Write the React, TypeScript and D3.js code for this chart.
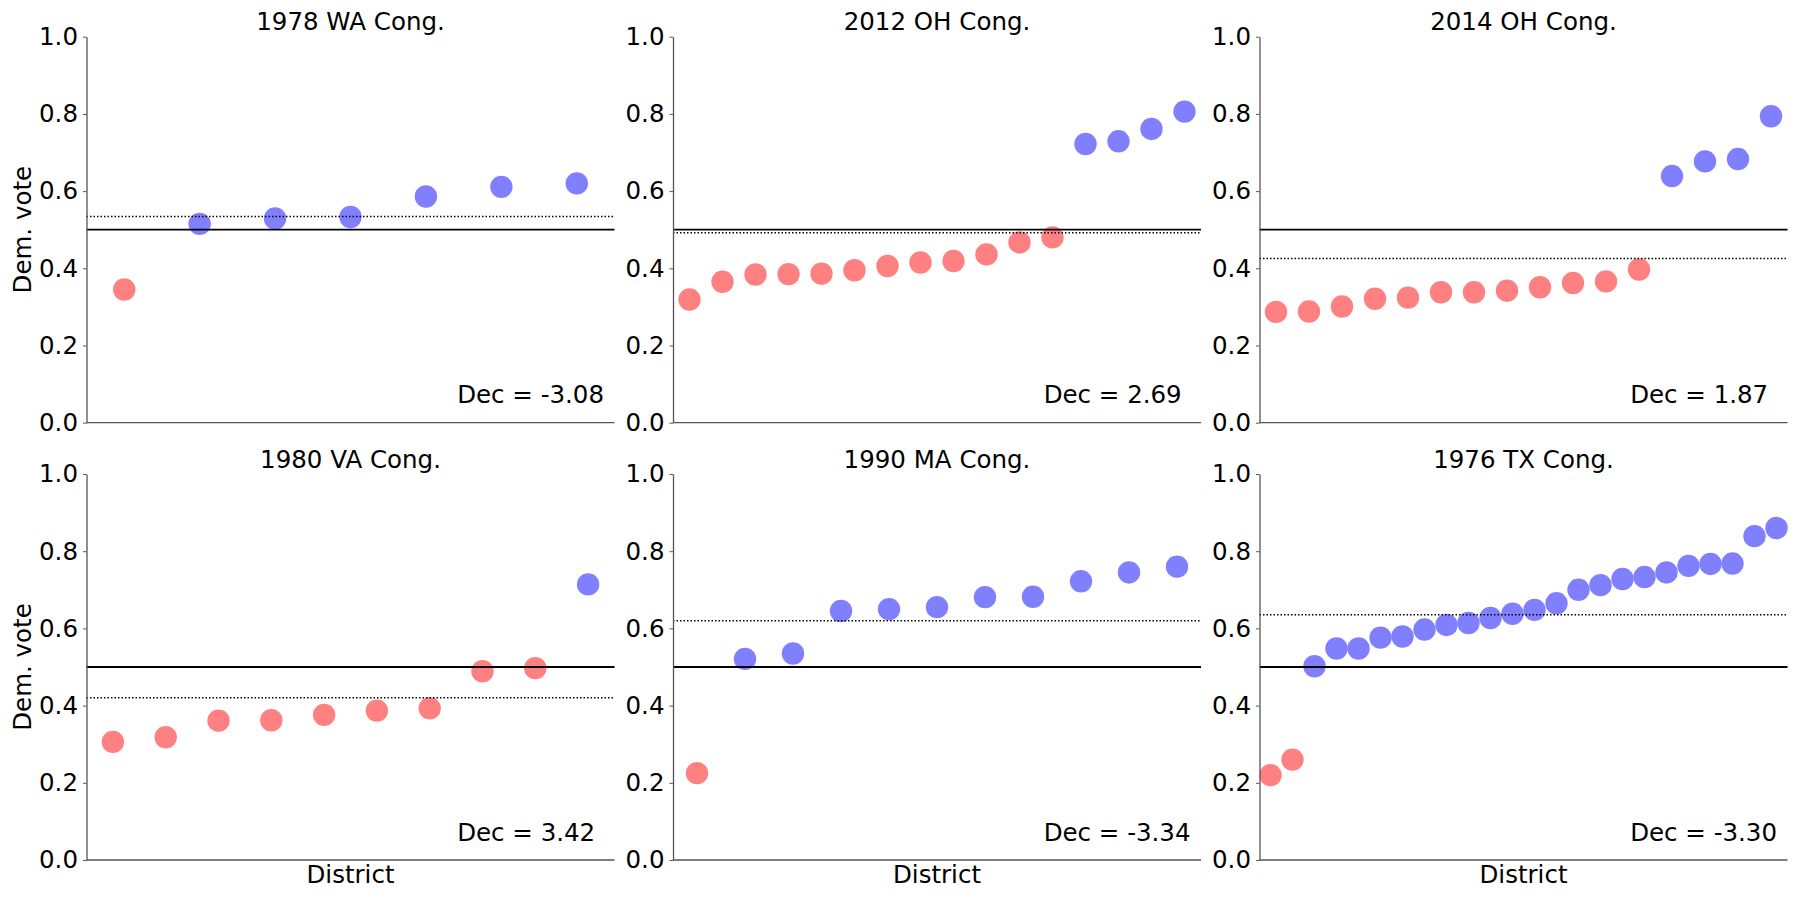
import { useEffect, useRef } from 'react';
import * as d3 from 'd3';

// Panel titles and declination labels, row by row
const titles = ['1978 WA Cong.', '2012 OH Cong.', '2014 OH Cong.', '1980 VA Cong.', '1990 MA Cong.', '1976 TX Cong.'];
const decLabels = ['Dec = -3.08', 'Dec = 2.69', 'Dec = 1.87', 'Dec = 3.42', 'Dec = -3.34', 'Dec = -3.30'];

// Democratic vote share per district, sorted ascending
const wa1978 = [0.345, 0.515, 0.529, 0.533, 0.586, 0.611, 0.620];
const oh2012 = [0.319, 0.365, 0.384, 0.385, 0.386, 0.395, 0.406, 0.415, 0.419, 0.436, 0.467, 0.480, 0.722, 0.729, 0.761, 0.806];
const oh2014 = [0.287, 0.288, 0.301, 0.321, 0.324, 0.338, 0.338, 0.342, 0.351, 0.362, 0.366, 0.397, 0.639, 0.677, 0.683, 0.794];
const va1980 = [0.306, 0.318, 0.361, 0.362, 0.376, 0.387, 0.393, 0.489, 0.497, 0.714];
const ma1990 = [0.225, 0.521, 0.535, 0.645, 0.650, 0.655, 0.681, 0.682, 0.722, 0.745, 0.760];
const tx1976 = [0.220, 0.260, 0.502, 0.548, 0.548, 0.576, 0.579, 0.597, 0.609, 0.614, 0.627, 0.638, 0.648, 0.665, 0.700, 0.712, 0.728, 0.733, 0.745, 0.762, 0.767, 0.768, 0.839, 0.860];

const panelVotes = [wa1978, oh2012, oh2014, va1980, ma1990, tx1976];
const yTicks = [0, 0.2, 0.4, 0.6, 0.8, 1.0];

const FONT = '"DejaVu Sans", sans-serif';
const FS = 24.5;
const RED = '#ff8080';
const BLUE = '#8080ff';

export default function App() {
  const ref = useRef<SVGSVGElement>(null);

  useEffect(() => {
    if (!ref.current) return;
    const svg = d3.select(ref.current);
    svg.selectAll('*').remove();

    const lefts = [86.5, 673, 1259.5];
    const tops = [36.7, 474];
    const pw = 528;
    const ph = 386;

    panelVotes.forEach((votes, i) => {
      const col = i % 3;
      const row = Math.floor(i / 3);
      const x0 = lefts[col];
      const x = d3.scaleLinear().domain([0.5, votes.length + 0.5]).range([x0, x0 + pw]);
      const y = d3.scaleLinear().domain([0, 1]).range([tops[row] + ph, tops[row]]);
      const g = svg.append('g');

      // points
      g.selectAll('circle')
        .data(votes)
        .join('circle')
        .attr('cx', (_, j) => x(j + 1))
        .attr('cy', d => y(d))
        .attr('r', 11.2)
        .attr('fill', d => (d < 0.5 ? RED : BLUE));

      // 50% line and mean vote line
      g.append('line')
        .attr('x1', x0).attr('x2', x0 + pw)
        .attr('y1', y(0.5)).attr('y2', y(0.5))
        .attr('stroke', '#000').attr('stroke-width', 1.8);

      const mean = d3.mean(votes) ?? 0.5;
      g.append('line')
        .attr('x1', x0).attr('x2', x0 + pw)
        .attr('y1', y(mean)).attr('y2', y(mean))
        .attr('stroke', '#000').attr('stroke-width', 1.5)
        .attr('stroke-dasharray', '1.5,2');

      // left axis
      const yAxis = d3.axisLeft(y)
        .tickValues(yTicks)
        .tickFormat(d3.format('.1f'))
        .tickSize(3.5)
        .tickSizeOuter(0)
        .tickPadding(5);
      const ax = g.append('g').attr('transform', `translate(${x0},0)`).call(yAxis);
      ax.attr('font-family', FONT).attr('font-size', FS);
      ax.select('.domain').attr('stroke', '#555').attr('stroke-width', 1.3);
      ax.selectAll('.tick line').attr('stroke', '#555').attr('stroke-width', 1);
      ax.selectAll('.tick text').attr('fill', '#000');

      // bottom spine
      g.append('line')
        .attr('x1', x0).attr('x2', x0 + pw)
        .attr('y1', y(0)).attr('y2', y(0))
        .attr('stroke', '#555').attr('stroke-width', 1.3);

      // title
      g.append('text')
        .attr('x', x0 + pw / 2)
        .attr('y', tops[row] - 6.5)
        .attr('text-anchor', 'middle')
        .attr('font-family', FONT).attr('font-size', FS)
        .text(titles[i]);

      // declination label
      g.append('text')
        .attr('x', x0 + pw * 0.702)
        .attr('y', y(0.05))
        .attr('font-family', FONT).attr('font-size', FS)
        .text(decLabels[i]);

      if (col === 0) {
        g.append('text')
          .attr('transform', `translate(31,${tops[row] + ph / 2}) rotate(-90)`)
          .attr('text-anchor', 'middle')
          .attr('font-family', FONT).attr('font-size', FS)
          .text('Dem. vote');
      }
      if (row === 1) {
        g.append('text')
          .attr('x', x0 + pw / 2)
          .attr('y', y(0) + 23)
          .attr('text-anchor', 'middle')
          .attr('font-family', FONT).attr('font-size', FS)
          .text('District');
      }
    });
  }, []);

  return (
    <svg
      ref={ref}
      width={1800}
      height={900}
      style={{ position: 'absolute', left: 0, top: 0, background: '#fff' }}
    />
  );
}
